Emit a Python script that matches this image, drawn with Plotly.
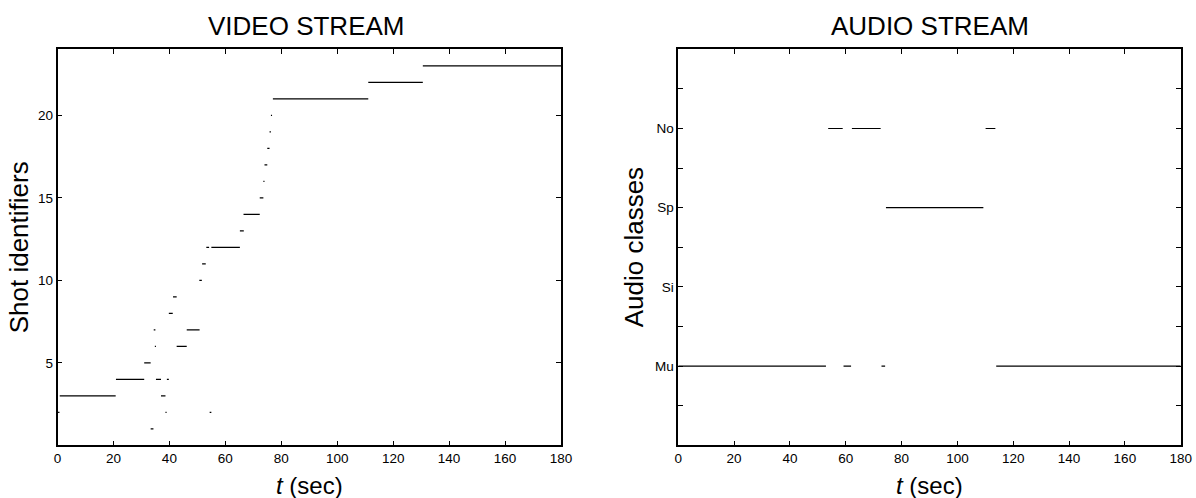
import plotly.graph_objects as go

# ---------------- data ----------------
# Video stream: shot identifier and its time span (sec)
shot_id = [2, 3, 4, 5, 1, 7, 6, 4, 3, 2, 4, 8, 9, 6, 7, 10, 11, 12, 2, 12,
           13, 14, 15, 16, 17, 18, 19, 20, 21, 22, 23]
shot_start = [0.2, 0.8, 20.9, 31.0, 33.3, 34.4, 34.8, 35.2, 37.0, 38.6, 39.1,
              39.8, 41.3, 42.6, 46.2, 50.7, 51.7, 53.2, 54.4, 55.0,
              65.2, 66.5, 72.3, 73.6, 74.0, 75.0, 75.8, 76.3, 77.0, 111.1, 130.6]
shot_end = [0.7, 20.8, 31.0, 33.3, 34.3, 35.0, 35.2, 37.0, 38.6, 39.0, 39.8,
            41.2, 42.6, 46.2, 50.8, 51.6, 53.0, 54.2, 55.0, 65.2,
            66.6, 72.3, 73.6, 74.0, 75.0, 75.8, 76.3, 76.7, 111.1, 130.6, 180.0]

# Audio stream
audio_labels = ["Mu", "Si", "Sp", "No"]
audio_class = ["Mu", "No", "Mu", "No", "Mu", "Sp", "No", "Mu"]
audio_start = [0.0, 53.7, 59.2, 62.2, 72.8, 74.4, 110.1, 113.9]
audio_end = [52.9, 58.9, 61.9, 72.5, 74.1, 109.3, 113.6, 180.0]

x_ticks = [0, 20, 40, 60, 80, 100, 120, 140, 160, 180]
video_yticks = [5, 10, 15, 20]

# ---------------- build ----------------
FONT = "Liberation Sans, Arial, sans-serif"
W, H = 1196, 498


def segs(starts, ends, levels):
    xs, ys = [], []
    for s, e, l in zip(starts, ends, levels):
        xs += [s, e, None]
        ys += [l, l, None]
    return xs, ys


vx, vy = segs(shot_start, shot_end, shot_id)
amap = {lab: i + 1 for i, lab in enumerate(audio_labels)}
ax_, ay_ = segs(audio_start, audio_end, [amap[c] for c in audio_class])

fig = go.Figure()
fig.add_trace(go.Scatter(x=vx, y=vy, mode="lines", xaxis="x", yaxis="y",
                         line=dict(color="black", width=1.2), showlegend=False,
                         hoverinfo="skip"))
fig.add_trace(go.Scatter(x=ax_, y=ay_, mode="lines", xaxis="x2", yaxis="y2",
                         line=dict(color="black", width=1.2), showlegend=False,
                         hoverinfo="skip"))

L1, R1 = 57.5, 561.0
L2, R2 = 678.3, 1180.7
TOP, BOT = 49.3, 445.3
ydom = [1 - BOT / H, 1 - TOP / H]

axis_common = dict(showline=True, linecolor="black", linewidth=1.5, mirror="ticks",
                   ticks="inside", ticklen=5, tickwidth=1, tickcolor="black",
                   showgrid=False, zeroline=False,
                   tickfont=dict(family=FONT, size=13.5, color="black"))

fig.update_layout(
    width=W, height=H,
    margin=dict(l=0, r=0, t=0, b=0, autoexpand=False),
    paper_bgcolor="white", plot_bgcolor="white",
    xaxis=dict(domain=[L1 / W, R1 / W], range=[0, 180], tickvals=x_ticks,
               anchor="y", **axis_common),
    yaxis=dict(domain=ydom, range=[0, 24], tickvals=video_yticks,
               anchor="x", **axis_common),
    xaxis2=dict(domain=[L2 / W, R2 / W], range=[0, 180], tickvals=x_ticks,
                anchor="y2", **axis_common),
    yaxis2=dict(domain=ydom, range=[0, 5],
                tickvals=[0.5, 1, 1.5, 2, 2.5, 3, 3.5, 4, 4.5],
                ticktext=["", audio_labels[0], "", audio_labels[1], "",
                          audio_labels[2], "", audio_labels[3], ""],
                anchor="x2", **axis_common),
)


def ann(text, xpx, ypx, size, angle=0):
    fig.add_annotation(text=text, x=xpx / W, y=1 - ypx / H,
                       xref="paper", yref="paper",
                       xanchor="center", yanchor="middle", showarrow=False,
                       textangle=angle, font=dict(family=FONT, size=size, color="black"))


ann("VIDEO STREAM", 306, 26, 26)
ann("AUDIO STREAM", (L2 + R2) / 2, 26, 26)
ann("<i>t</i> (sec)", (L1 + R1) / 2, 485, 24)
ann("<i>t</i> (sec)", (L2 + R2) / 2, 485, 24)
ann("Shot identifiers", 19, (TOP + BOT) / 2, 26, -90)
ann("Audio classes", 634, (TOP + BOT) / 2, 26, -90)

fig.write_html(
    "out.html",
    config={"displayModeBar": False},
    post_script="document.body.style.margin='0';document.body.style.overflow='hidden';",
)
